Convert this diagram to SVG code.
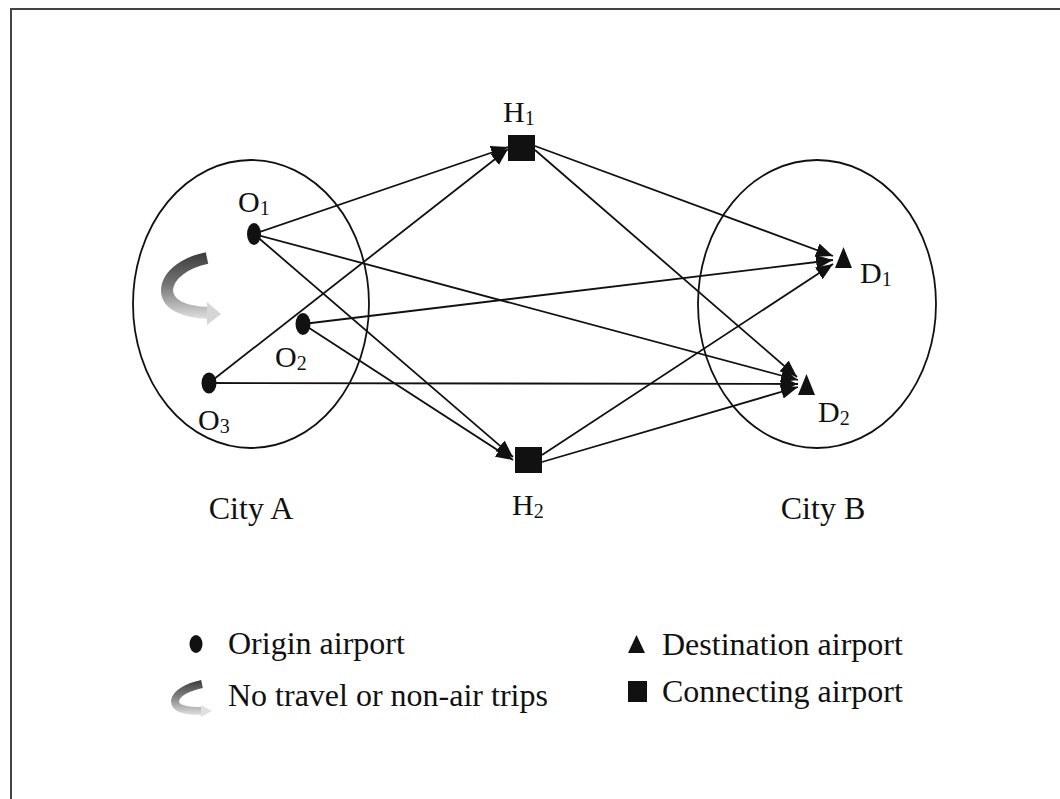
<svg xmlns="http://www.w3.org/2000/svg" width="1060" height="799" viewBox="0 0 1060 799">
<style>
.t{font-family:"Liberation Serif","Times New Roman",serif;font-size:30px;fill:#111}
.l{font-size:32px}
.s{font-size:20px}
.city{fill:none;stroke:#111;stroke-width:1.8}
.c{stroke:#111;stroke-width:1.8;fill:none;marker-end:url(#ah)}
.n{fill:#111}
</style>
<defs>
<marker id="ah" markerUnits="userSpaceOnUse" markerWidth="19" markerHeight="15" refX="17" refY="7" orient="auto">
<path d="M0,0 L17,7 L0,14 z" fill="#111"/>
</marker>
<linearGradient id="g" gradientUnits="userSpaceOnUse" x1="0" y1="252" x2="0" y2="318">
<stop offset="0" stop-color="#3a3a3a"/>
<stop offset="0.5" stop-color="#777"/>
<stop offset="1" stop-color="#ddd"/>
</linearGradient>
<linearGradient id="g2" gradientUnits="userSpaceOnUse" x1="0" y1="680" x2="0" y2="716">
<stop offset="0" stop-color="#3a3a3a"/>
<stop offset="0.5" stop-color="#888"/>
<stop offset="1" stop-color="#e4e4e4"/>
</linearGradient>
</defs>
<rect x="11" y="9" width="1100" height="900" fill="none" stroke="#444" stroke-width="2"/>
<g id="cityA"><ellipse class="city" cx="251" cy="304" rx="118" ry="144"/><text class="t l" x="251" y="519" text-anchor="middle">City A</text></g>
<g id="cityB"><ellipse class="city" cx="817" cy="304" rx="119" ry="144"/><text class="t l" x="823" y="519" text-anchor="middle">City B</text></g>
<g id="connectors">
<line class="c" x1="254" y1="234" x2="508" y2="147"/>
<line class="c" x1="209" y1="383" x2="508" y2="149"/>
<line class="c" x1="254" y1="234" x2="513" y2="457"/>
<line class="c" x1="303" y1="324" x2="513" y2="460"/>
<line class="c" x1="254" y1="234" x2="798" y2="380"/>
<line class="c" x1="209" y1="383" x2="798" y2="384"/>
<line class="c" x1="303" y1="324" x2="833" y2="260"/>
<line class="c" x1="535" y1="146" x2="833" y2="256"/>
<line class="c" x1="535" y1="150" x2="797" y2="377"/>
<line class="c" x1="542" y1="455" x2="833" y2="264"/>
<line class="c" x1="542" y1="462" x2="798" y2="387"/>
</g>
<g id="O1"><ellipse class="n" cx="254" cy="234" rx="7" ry="11"/><text class="t" x="238" y="212">O<tspan class="s" dy="3">1</tspan></text></g>
<g id="O2"><ellipse class="n" cx="303" cy="324" rx="7.5" ry="11"/><text class="t" x="275" y="367">O<tspan class="s" dy="3">2</tspan></text></g>
<g id="O3"><ellipse class="n" cx="209" cy="383" rx="7.5" ry="10.5"/><text class="t" x="198" y="430">O<tspan class="s" dy="3">3</tspan></text></g>
<g id="H1"><rect class="n" x="508" y="135" width="27" height="26"/><text class="t" x="503" y="122">H<tspan class="s" dy="3">1</tspan></text></g>
<g id="H2"><rect class="n" x="515" y="447" width="27" height="26"/><text class="t" x="512" y="515">H<tspan class="s" dy="3">2</tspan></text></g>
<g id="D1"><polygon class="n" points="843.5,247 852,268 835,268"/><text class="t" x="860" y="283">D<tspan class="s" dy="3">1</tspan></text></g>
<g id="D2"><polygon class="n" points="806.5,374 815,395 798,395"/><text class="t" x="818" y="422">D<tspan class="s" dy="3">2</tspan></text></g>
<g id="selfloop">
<path d="M207,258 C188,262 168,273 167,290 C167,305 184,312 209,313" fill="none" stroke="url(#g)" stroke-width="12"/>
<polygon points="207,302 221,314 207,325" fill="#d6d6d6"/>
</g>
<g id="legend">
<ellipse class="n" cx="196" cy="644" rx="6.5" ry="9"/>
<text class="t l" x="228" y="654">Origin airport</text>
<path d="M202,684 C188,687 176,693 175,701 C175,709 186,711 202,711" fill="none" stroke="url(#g2)" stroke-width="8"/>
<polygon points="201,705 212,711 201,717" fill="#e0e0e0"/>
<text class="t l" x="228" y="706">No travel or non-air trips</text>
<polygon class="n" points="636.5,635 645,653 628,653"/>
<text class="t l" x="662" y="655">Destination airport</text>
<rect class="n" x="628" y="681" width="19" height="21"/>
<text class="t l" x="662" y="702">Connecting airport</text>
</g>
</svg>
